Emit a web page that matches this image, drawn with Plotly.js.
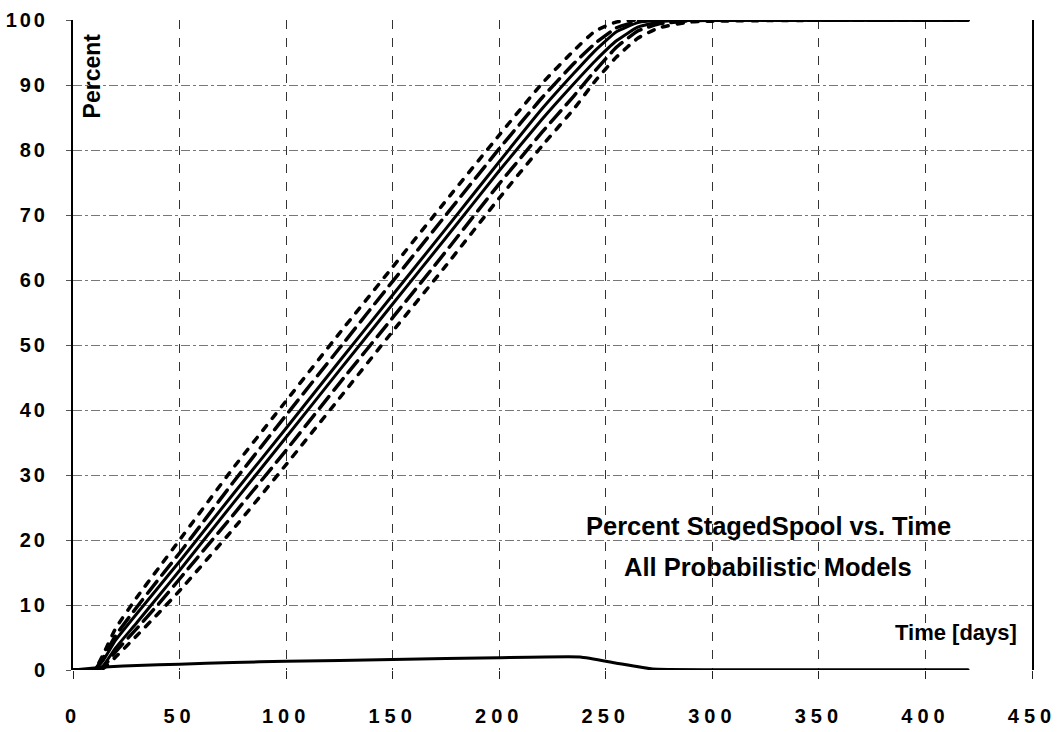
<!DOCTYPE html>
<html>
<head>
<meta charset="utf-8">
<script src="https://cdn.plot.ly/plotly-3.0.1.min.js"></script>
<style>
html,body{margin:0;padding:0;background:#fff;}
#chart{width:1057px;height:732px;}
</style>
</head>
<body>
<div id="chart"></div>
<script>
// Time axis (days) shared by the bundle of percent curves
const days = [0, 10, 14, 20, 30, 40, 50, 75, 100, 125, 150, 175, 200, 220, 235, 245, 255, 265, 275, 290, 420];
// Outer dotted curves
const dotUpper  = [0, 0, 2.3, 6.4, 11.2, 15.6, 20, 31, 41.4, 51.8, 62, 72.2, 82.3, 90.2, 95.3, 98.3, 99.7, 100, 100, 100, 100];
const dotLower  = [0, 0, 0.2, 2, 5.3, 8.7, 12.2, 21.6, 31.6, 41.8, 52.1, 62.2, 72.6, 80.6, 86.3, 90.6, 94.3, 97.2, 98.8, 99.7, 100];
// Long-dashed curves
const dashUpper = [0, 0, 1.8, 5.3, 9.7, 13.9, 18, 28.8, 39.2, 49.5, 59.8, 70, 80.2, 88, 93.3, 96.4, 98.8, 99.8, 100, 100, 100];
const dashLower = [0, 0, 0.4, 2.8, 6.4, 10.1, 14, 23.8, 33.8, 44.1, 54.2, 64.4, 74.8, 82.7, 88.3, 92.2, 95.8, 98.3, 99.4, 99.9, 100];
// Solid central curves
const solidUpper = [0, 0, 1.4, 4.6, 8.7, 12.7, 16.7, 27, 37.2, 47.5, 57.7, 67.9, 78.2, 86.3, 91.8, 95.3, 98.2, 99.6, 100, 100, 100];
const solidLower = [0, 0, 0.6, 3.4, 7.3, 11.3, 15.3, 25.6, 35.8, 46.1, 56.3, 66.5, 76.8, 84.7, 90.2, 93.7, 96.8, 98.9, 99.7, 100, 100];
// Low spread curve
const spreadDays = [0, 10, 17, 30, 50, 75, 100, 150, 200, 238, 255, 272, 300, 420];
const spread     = [0, 0.3, 0.5, 0.7, 0.9, 1.15, 1.35, 1.6, 1.9, 2.0, 1.05, 0.15, 0.05, 0.05];

const xTicks = [0, 50, 100, 150, 200, 250, 300, 350, 400, 450];
const yTicks = [0, 10, 20, 30, 40, 50, 60, 70, 80, 90, 100];

const FONT = 'Liberation Sans, Arial, Helvetica, sans-serif';

function line(x, y, dash, width) {
  return {x: x, y: y, type: 'scatter', mode: 'lines', hoverinfo: 'skip',
          line: {color: '#000', width: width, dash: dash, shape: 'spline', smoothing: 0.4}};
}

const traces = [
  line(days, dotUpper, '6px,9px', 3.5),
  line(days, dotLower, '6px,9px', 3.5),
  line(days, dashUpper, '15px,8px', 3.5),
  line(days, dashLower, '15px,8px', 3.5),
  line(days, solidUpper, 'solid', 3),
  line(days, solidLower, 'solid', 3),
  line(spreadDays, spread, 'solid', 3)
];

const layout = {
  width: 1057, height: 732,
  margin: {l: 73, r: 25, t: 20, b: 62},
  paper_bgcolor: '#fff', plot_bgcolor: '#fff',
  showlegend: false,
  font: {family: FONT, color: '#000'},
  xaxis: {
    range: [0, 450], tickvals: xTicks, ticktext: xTicks.map(String),
    showgrid: true, gridcolor: '#333', gridwidth: 1, griddash: 'dash',
    zeroline: false, showline: false,
    ticks: 'outside', ticklen: 8, tickcolor: '#222', tickwidth: 1,
    ticklabelstandoff: 20,
    tickfont: {family: FONT, size: 20, weight: 'bold', color: '#000'}
  },
  yaxis: {
    range: [0, 100], tickvals: yTicks, ticktext: yTicks.map(String),
    showgrid: true, gridcolor: '#777', gridwidth: 1, griddash: 'dashdot',
    zeroline: false, showline: true, mirror: true, linecolor: '#000', linewidth: 2,
    ticks: 'outside', ticklen: 5, tickcolor: '#555', tickwidth: 1,
    ticklabelstandoff: 14,
    tickfont: {family: FONT, size: 20, weight: 'bold', color: '#000'}
  },
  annotations: [
    {text: 'Percent', xref: 'paper', yref: 'paper', x: 0.02, y: 0.982, xanchor: 'center', yanchor: 'top',
     textangle: -90, showarrow: false, font: {family: FONT, size: 23, weight: 'bold', color: '#000'}},
    {text: 'Time [days]', xref: 'paper', yref: 'paper', x: 0.986, y: 0.058, xanchor: 'right', yanchor: 'middle',
     showarrow: false, font: {family: FONT, size: 22, weight: 'bold', color: '#000'}},
    {text: 'Percent StagedSpool vs. Time', xref: 'paper', yref: 'paper', x: 0.725, y: 0.221, xanchor: 'center', yanchor: 'middle',
     showarrow: false, font: {family: FONT, size: 25.5, weight: 'bold', color: '#000'}},
    {text: 'All Probabilistic Models', xref: 'paper', yref: 'paper', x: 0.725, y: 0.159, xanchor: 'center', yanchor: 'middle',
     showarrow: false, font: {family: FONT, size: 25.5, weight: 'bold', color: '#000'}}
  ]
};

Plotly.newPlot('chart', traces, layout, {staticPlot: true, displayModeBar: false}).then(function () {
  document.querySelectorAll('.xtick text').forEach(function (t) {
    t.style.letterSpacing = '5px';
  });
  document.querySelectorAll('.ytick text').forEach(function (t) {
    t.style.letterSpacing = '3px';
  });
  document.querySelectorAll('.scatterlayer path.js-line').forEach(function (p) {
    p.style.strokeLinecap = 'round';
  });
});
</script>
</body>
</html>
